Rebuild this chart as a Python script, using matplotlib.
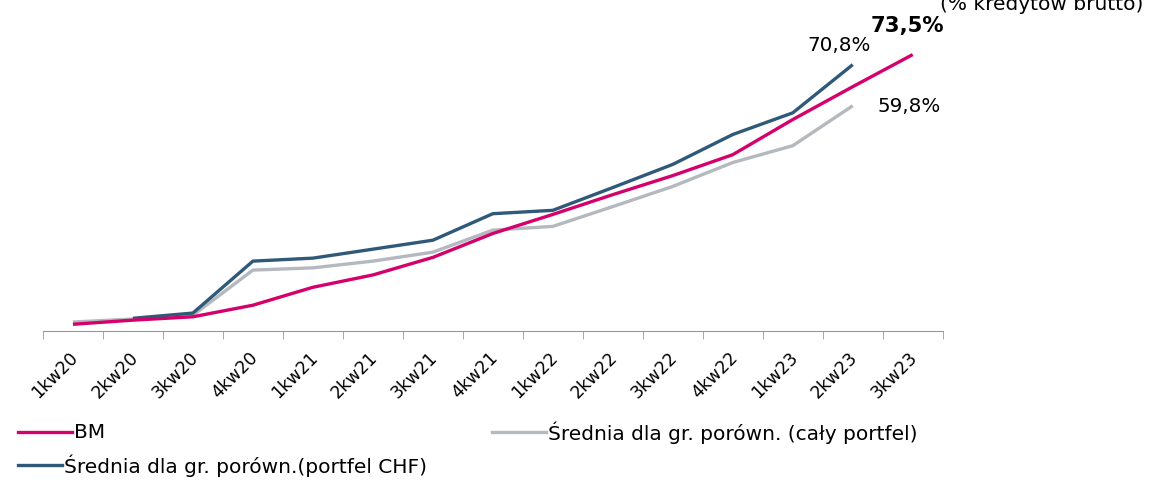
import matplotlib
matplotlib.use("Agg")
import matplotlib.pyplot as plt
import matplotlib.transforms as mtransforms
from matplotlib.lines import Line2D
import numpy as np

plt.rcParams['font.family'] = ['DejaVu Sans']

# quarters
quarters = ['1kw20', '2kw20', '3kw20', '4kw20', '1kw21', '2kw21', '3kw21', '4kw21',
            '1kw22', '2kw22', '3kw22', '4kw22', '1kw23', '2kw23', '3kw23']

# values (% kredytow brutto)
bm = [1.3, 2.4, 3.3, 6.4, 11.2, 14.5, 19.2, 25.6, 30.7, 36.0, 41.1, 46.7, 56.1, 64.9, 73.5]
avg_all = [1.9, 2.7, 3.7, 15.8, 16.4, 18.2, 20.6, 26.5, 27.5, 32.8, 38.2, 44.6, 49.1, 59.8]
avg_chf = [None, 2.9, 4.3, 18.2, 19.0, 21.4, 23.8, 30.9, 31.8, 37.9, 44.1, 52.1, 57.9, 70.8]

c_bm = '#d4006c'
c_all = '#b3b9be'
c_chf = '#2f5979'

fig = plt.figure(figsize=(11.55, 4.85), dpi=100)
ax = fig.add_axes([0.0372, 0.3155, 0.779, 0.62])

x = np.arange(len(quarters))
ax.plot(x[:len(avg_all)], avg_all, color=c_all, lw=2.4, solid_capstyle='butt')
chf = np.array([np.nan if v is None else v for v in avg_chf])
ax.plot(x[:len(chf)], chf, color=c_chf, lw=2.4, solid_capstyle='butt')
ax.plot(x, bm, color=c_bm, lw=2.4, solid_capstyle='butt')

ax.set_xlim(-0.5, len(quarters) - 0.5)
ax.set_ylim(-0.5, 80)

for s in ['top', 'right', 'left']:
    ax.spines[s].set_visible(False)
ax.spines['bottom'].set_color('#999999')
ax.set_yticks([])

ax.set_xticks(x)
ax.set_xticklabels(quarters, rotation=45, ha='right', rotation_mode='anchor', fontsize=12.5)
ax.tick_params(axis='x', which='major', length=0, pad=12)
ax.set_xticks(np.arange(-0.5, len(quarters)), minor=True)
ax.tick_params(axis='x', which='minor', length=6, color='#999999')
shift = mtransforms.ScaledTranslation(-4 / 100, 0, fig.dpi_scale_trans)
for lab in ax.get_xticklabels():
    lab.set_transform(lab.get_transform() + shift)

# end labels
ax.annotate('70,8%', (13, avg_chf[13]), xytext=(-14, 20), textcoords='offset pixels',
            ha='center', va='center', fontsize=14.3)
ax.annotate('59,8%', (13, avg_all[13]), xytext=(56, 0), textcoords='offset pixels',
            ha='center', va='center', fontsize=14.3)
ax.annotate('73,5%', (14, bm[14]), xytext=(-5, 30), textcoords='offset pixels',
            ha='center', va='center', fontsize=15.3, fontweight='bold')

fig.text(940 / 1155, 1 - 10 / 485, '(% kredytów brutto)', fontsize=14.5, va='baseline', ha='left')

# legend drawn by hand
def leg(x0, x1, y, color, label):
    yf = 1 - y / 485
    fig.add_artist(Line2D([x0 / 1155, x1 / 1155], [yf, yf], color=color, lw=2.4,
                          transform=fig.transFigure))
    fig.text(x1 / 1155 + 0.002, yf, label, fontsize=14.5, va='center', ha='left')

leg(18, 72, 433, c_bm, 'BM')
leg(492, 546, 433, c_all, 'Średnia dla gr. porówn. (cały portfel)')
leg(18, 62, 466, c_chf, 'Średnia dla gr. porówn.(portfel CHF)')

fig.savefig('out.png', dpi=100)
